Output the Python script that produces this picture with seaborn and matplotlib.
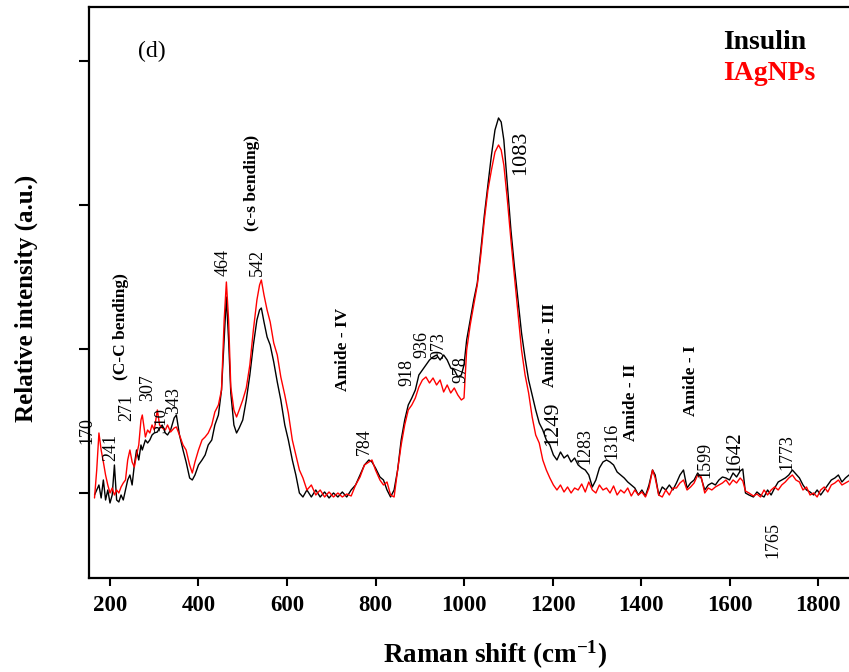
import numpy as np
import pandas as pd
import matplotlib
matplotlib.use("Agg")
import matplotlib.pyplot as plt
import seaborn as sns

# ---------------- data ----------------
raman_shift = [165, 170, 175, 180, 185, 190, 195, 200, 205, 210, 215, 220, 225, 230, 235,
               240, 245, 250, 255, 260, 265, 270, 273, 280, 285, 290, 295, 300, 307, 312,
               318, 325, 330, 337, 345, 350, 357, 365, 372, 380, 386, 392, 400, 408, 415,
               422, 430, 437, 445, 452, 458, 463, 468, 473, 480, 486, 492, 500, 508, 516,
               524, 532, 538, 542, 548, 555, 562, 570, 578, 586, 595, 603, 612, 620, 628,
               636, 645, 655, 665, 675, 685, 695, 705, 715, 725, 735, 745, 755, 765, 775,
               785, 792, 800, 810, 818, 826, 834, 842, 850, 858, 866, 874, 882, 890, 898,
               906, 914, 922, 930, 938, 946, 954, 962, 970, 978, 986, 994, 1000, 1006, 1014,
               1022, 1030, 1038, 1046, 1054, 1062, 1070, 1078, 1084, 1090, 1098, 1106, 1114, 1122, 1130,
               1138, 1146, 1154, 1162, 1170, 1178, 1186, 1194, 1202, 1210, 1218, 1226, 1234, 1242, 1250,
               1258, 1266, 1274, 1282, 1290, 1298, 1306, 1314, 1322, 1330, 1338, 1346, 1354, 1362, 1370,
               1378, 1386, 1394, 1402, 1410, 1418, 1426, 1432, 1440, 1448, 1456, 1464, 1472, 1480, 1488,
               1496, 1504, 1512, 1520, 1528, 1536, 1544, 1552, 1560, 1568, 1576, 1584, 1592, 1600, 1608,
               1616, 1624, 1630, 1636, 1644, 1654, 1662, 1670, 1678, 1686, 1694, 1702, 1710, 1718, 1726,
               1734, 1742, 1750, 1758, 1766, 1774, 1782, 1790, 1798, 1806, 1814, 1822, 1830, 1838, 1846,
               1854, 1862, 1870]

insulin = [-2, 3, 8, -5, 13, -7, 3, -10, -2, 28, -7, -9, -2, -7, 3,
           13, 18, 8, 28, 43, 33, 48, 43, 53, 50, 53, 58, 60, 61, 65,
           68, 60, 58, 63, 75, 78, 58, 43, 31, 15, 13, 18, 28, 33, 38,
           48, 53, 68, 78, 103, 153, 196, 153, 100, 68, 60, 65, 73, 93, 118,
           148, 173, 183, 185, 171, 156, 148, 131, 111, 93, 68, 53, 33, 18, 0,
           -4, 3, -4, 3, -4, 1, -5, 0, -4, 1, -4, 3, 8, 18, 28,
           33, 31, 25, 16, 13, 3, -4, 3, 23, 53, 73, 88, 95, 103, 118,
           123, 128, 133, 136, 138, 133, 138, 133, 125, 123, 116, 118, 128, 153, 173,
           193, 210, 243, 278, 308, 338, 363, 375, 371, 353, 308, 263, 226, 193, 160,
           135, 113, 98, 83, 70, 63, 53, 48, 38, 33, 41, 35, 38, 31, 35,
           28, 25, 23, 18, 6, 13, 25, 31, 33, 31, 28, 21, 18, 15, 11,
           8, 5, -2, 3, -3, 8, 23, 18, -2, 6, 3, 8, 3, 10, 18,
           23, 5, 10, 13, 20, 15, 3, 8, 10, 8, 13, 16, 15, 13, 20,
           16, 22, 24, 0, -2, -4, 1, -2, -4, 3, -2, 5, 11, 13, 15,
           18, 23, 19, 15, 8, 3, 1, -2, 3, -2, 3, 8, 13, 15, 18,
           11, 15, 18]

iagnps = [-5, 23, 60, 43, 31, 18, 8, 0, 5, -2, 3, 0, 6, 10, 13,
          33, 43, 31, 26, 38, 48, 73, 78, 56, 63, 60, 68, 63, 83, 68,
          65, 63, 68, 61, 65, 66, 58, 48, 43, 28, 20, 31, 43, 53, 56,
          60, 68, 81, 88, 103, 173, 211, 173, 106, 83, 76, 83, 93, 105, 128,
          163, 193, 208, 213, 198, 183, 171, 150, 138, 116, 98, 80, 53, 38, 23,
          15, 3, 8, -2, 3, -4, 1, -4, 0, -4, -1, -3, 8, 16, 28,
          31, 33, 23, 13, 8, 11, -2, -4, 23, 48, 68, 83, 88, 95, 106,
          113, 116, 110, 115, 108, 113, 101, 108, 100, 105, 98, 93, 95, 143, 168,
          188, 208, 238, 273, 303, 323, 341, 348, 343, 328, 293, 253, 216, 178, 143,
          118, 100, 76, 58, 50, 33, 23, 15, 8, 3, 8, 1, 6, 0, 5,
          3, 9, 1, 11, 3, 0, 8, 3, 5, 0, 7, -2, 3, 0, 5,
          -3, 3, -2, 1, -4, 5, 23, 15, -2, -4, 3, -2, 5, 5, 10,
          13, 3, 6, 10, 18, 16, 0, 5, 3, 6, 8, 10, 13, 8, 13,
          10, 15, 12, 2, 0, -3, -1, -4, 3, -2, 3, 6, 3, 8, 11,
          15, 18, 13, 11, 3, 6, -2, 0, -4, 3, 6, 1, 8, 10, 13,
          8, 10, 12]

series_names = ["Insulin", "IAgNPs"]
series_colors = ["black", "red"]

peak_labels = ["170", "241", "271", "307", "310", "343", "464", "542", "784", "918",
               "936", "973", "978", "1083", "1249", "1283", "1316", "1599", "1642", "1773", "1765"]
peak_label_x = [148, 202, 238, 284, 315, 344, 455, 534, 774, 871,
                905, 944, 993, 1127, 1201, 1273, 1334, 1545, 1612, 1730, 1698]
peak_label_y = [62, 46, 85, 105, 72, 92, 230, 230, 51, 120,
                148, 147, 123, 340, 69, 47, 52, 33, 41, 41, -47]
peak_label_size = [13, 13, 13, 13, 12, 13, 13, 13, 13, 13,
                   13, 13, 13, 16, 16, 13, 13, 13, 15, 13, 13]

band_labels = ["(C-C bending)", "(c-s bending)", "Amide - IV", "Amide - III", "Amide - II", "Amide - I"]
band_label_x = [225, 521, 727, 1194, 1377, 1513]
band_label_y = [166, 310, 144, 148, 91, 112]

x_ticks = [200, 400, 600, 800, 1000, 1200, 1400, 1600, 1800]
y_ticks = [0, 144, 288, 432]

# ---------------- plotting ----------------
sns.set_style("ticks")
plt.rcParams["font.family"] = ["Liberation Serif", "DejaVu Serif"]
plt.rcParams["text.color"] = "black"
plt.rcParams["axes.labelcolor"] = "black"
plt.rcParams["xtick.color"] = "black"
plt.rcParams["ytick.color"] = "black"
plt.rcParams["mathtext.fontset"] = "custom"
plt.rcParams["mathtext.rm"] = "Liberation Serif:bold"
plt.rcParams["mathtext.bf"] = "Liberation Serif:bold"
plt.rcParams["mathtext.default"] = "bf"

df = pd.DataFrame({"shift": raman_shift, "Insulin": insulin, "IAgNPs": iagnps})
long = df.melt(id_vars="shift", var_name="sample", value_name="intensity")

fig = plt.figure(figsize=(8.49, 6.72), dpi=100)
ax = fig.add_axes([0.1048, 0.1399, 0.8952, 0.8497])

sns.lineplot(data=long, x="shift", y="intensity", hue="sample",
             hue_order=series_names, palette=dict(zip(series_names, series_colors)),
             estimator=None, linewidth=1.0, legend=False, ax=ax)

ax.set_xlim(152.5, 1870)
ax.set_ylim(-85, 486)

for side in ["left", "bottom", "top"]:
    ax.spines[side].set_linewidth(1.6)
    ax.spines[side].set_color("black")
ax.spines["right"].set_visible(False)

ax.set_xticks(x_ticks)
ax.set_xticklabels([str(t) for t in x_ticks])
ax.set_yticks(y_ticks)
ax.set_yticklabels([])
ax.tick_params(axis="x", direction="out", length=6, width=1.5, labelsize=16.5, pad=6,
               colors="black", labelcolor="black")
ax.tick_params(axis="y", direction="out", length=7, width=1.5, colors="black")
for lbl in ax.get_xticklabels():
    lbl.set_fontweight("bold")
    lbl.set_color("black")

ax.set_xlabel("Raman shift (cm$^{-1}$)", fontsize=19.5, fontweight="bold", color="black")
ax.xaxis.label.set_va("center")
ax.xaxis.set_label_coords(0.534, -0.135)
ax.set_ylabel("Relative intensity (a.u.)", fontsize=18, fontweight="bold", color="black")
ax.yaxis.label.set_va("center")
ax.yaxis.set_label_coords(-0.082, 0.49)

for t, x, y, s in zip(peak_labels, peak_label_x, peak_label_y, peak_label_size):
    ax.text(x, y, t, rotation=90, ha="center", va="center", fontsize=s, color="black")
for t, x, y in zip(band_labels, band_label_x, band_label_y):
    ax.text(x, y, t, rotation=90, ha="center", va="center", fontsize=12.5,
            fontweight="bold", color="black")

ax.text(0.083, 0.923, "(d)", transform=ax.transAxes, ha="center", va="center",
        fontsize=17, color="black")
ax.text(0.834, 0.9266, "Insulin", transform=ax.transAxes, ha="left", va="baseline",
        fontsize=20, fontweight="bold", color=series_colors[0])
ax.text(0.834, 0.8724, "IAgNPs", transform=ax.transAxes, ha="left", va="baseline",
        fontsize=20, fontweight="bold", color=series_colors[1])

fig.savefig("out.png", dpi=100)
